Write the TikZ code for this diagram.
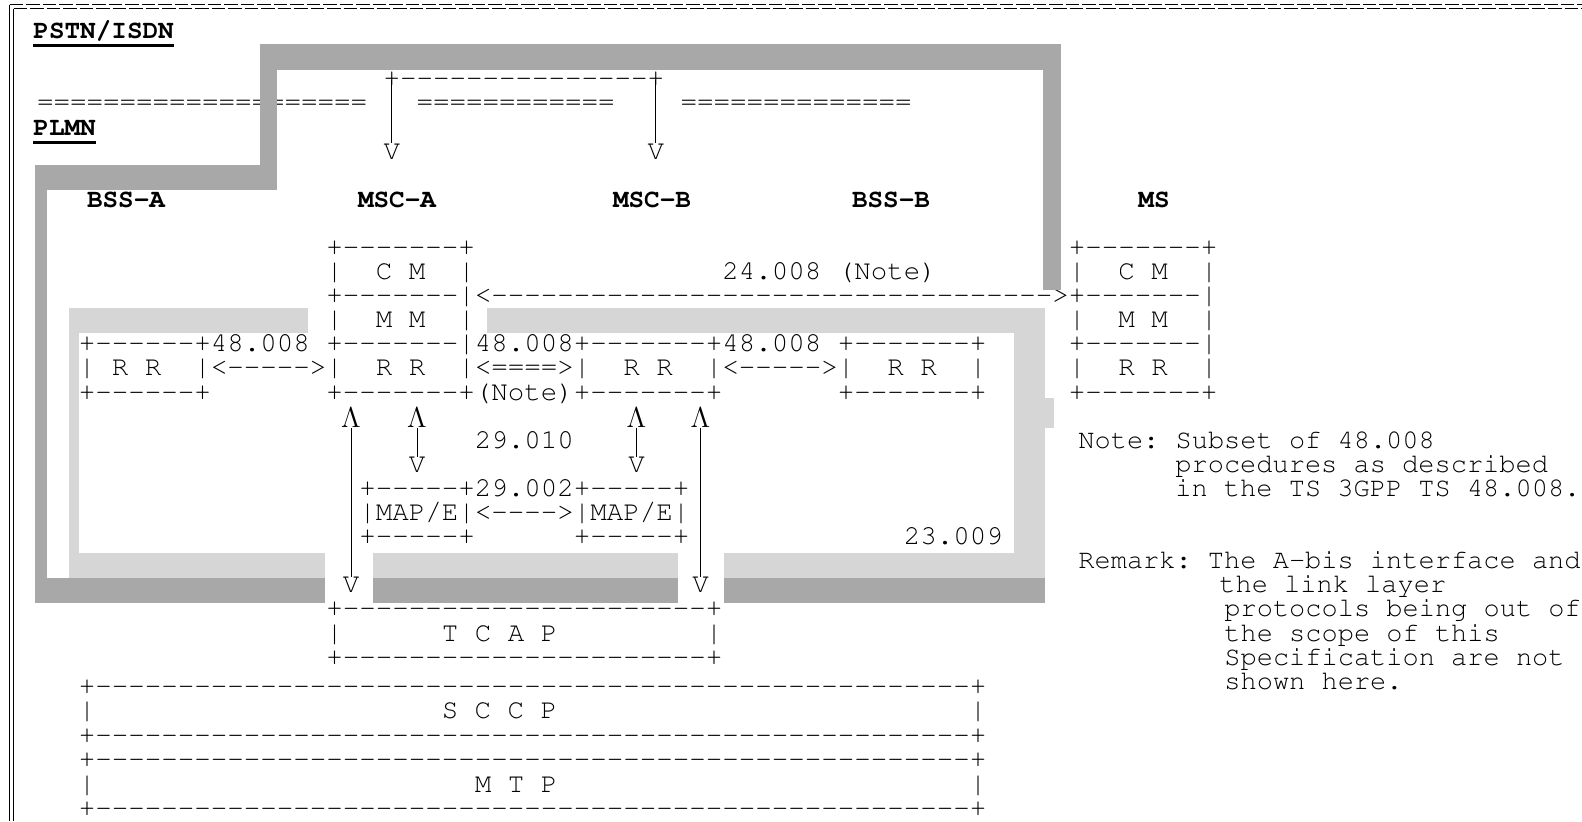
\documentclass[tikz,border=0pt]{standalone}
\usepackage[T1]{fontenc}
\ExplSyntaxOn
\NewDocumentCommand\rep{mm}{\prg_replicate:nn{#1}{#2}}
\ExplSyntaxOff
\newcommand\dashes[1]{\rep{#1}{-{}}}
\newcommand\equals[1]{\rep{#1}{=}}
\newcommand\blanks[1]{\rep{#1}{~}}
\newcommand\cour{\fontencoding{T1}\fontfamily{pcr}\fontsize{13.75}{14}\selectfont}
\newcommand\notefont{\fontencoding{T1}\fontfamily{pcr}\fontsize{13.5}{14}\selectfont}
\newcommand\cx[1]{78.75+16.5*#1}  % lower grid, left edge of column
\newcommand\cc[1]{87+16.5*#1}     % lower grid, middle of column
\newcommand\ux[1]{37+16.5*#1}     % upper grid
\newcommand\ry[1]{38.5+24.1*#1}   % baseline of text row
\tikzset{
  asc/.style={font=\cour, inner sep=0pt, outer sep=0pt, anchor=base west},
  head/.style={font=\cour\fontsize{13}{14}\bfseries, inner sep=0pt, anchor=base},
  note/.style={font=\notefont, inner sep=0pt, anchor=base west},
  tip/.style={font=\cour, inner sep=0pt, anchor=base},
  link/.style={line width=0.5pt},
  plmn/.style={fill=black!34},
  bss/.style={fill=black!16}
}
\begin{document}
\begin{tikzpicture}[x=0.5pt,y=-0.5pt]
\useasboundingbox (0,0) rectangle (1582,821);
% frame of the figure
\draw[line width=0.7pt] (9.5,4.5) -- (9.5,821);
\draw[line width=0.7pt] (13.5,8.5) -- (13.5,821);
\draw[line width=0.8pt, dash pattern=on 6.9pt off 1.35pt] (9.5,4.5) -- (1582,4.5);
\draw[line width=0.8pt, dash pattern=on 6.9pt off 1.35pt] (13.5,8.5) -- (1582,8.5);

% networks
\node[head, anchor=base west] (pstn) at (33,38) {PSTN/ISDN};
\node[head, anchor=base west] (plmn) at (33,135) {PLMN};
\draw[line width=1.5pt] ([yshift=-3.5pt]pstn.base west) -- ([yshift=-3.5pt]pstn.base east);
\draw[line width=1.5pt] ([yshift=-3.5pt]plmn.base west) -- ([yshift=-3.5pt]plmn.base east);
\node[asc] (tie) at (\ux{21},\ry{2}) {+\dashes{15}+};
\node[asc] (border) at (\ux{0},\ry{3}) {\equals{20}~~~\equals{12}~~~~\equals{14}};
\node[tip] (vA) at (\ux{21}+8.25,\ry{5}) {V};
\node[tip] (vB) at (\ux{37}+8.25,\ry{5}) {V};
\draw[link] ([xshift=4.125pt]tie.west) -- (vA.north);
\draw[link] ([xshift=-4.125pt]tie.east) -- (vB.north);

% entities
\node[head] (bssA) at (126,\ry{7}) {BSS-A};
\node[head] (mscA) at (397,\ry{7}) {MSC-A};
\node[head] (mscB) at (652,\ry{7}) {MSC-B};
\node[head] (bssB) at (891,\ry{7}) {BSS-B};
\node[head] (ms) at (1154,\ry{7}) {MS};

% CM, MM and RR layers
\node[asc] (r09) at (\cx{15},\ry{9}) {+\dashes{7}+\blanks{36}+\dashes{7}+};
\node[asc] (r10) at (\cx{15},\ry{10}) {|~~C~M~~|\blanks{15}24.008~(Note)\blanks{8}|~~C~M~~|};
\node[asc] (r11) at (\cx{15},\ry{11}) {+\dashes{7}|<\dashes{34}>+\dashes{7}|};
\node[asc] (r12) at (\cx{15},\ry{12}) {|~~M~M~~|\blanks{36}|~~M~M~~|};
\node[asc] (r13) at (\cx{0},\ry{13}) {+\dashes{6}+48.008~+\dashes{7}|48.008+\dashes{7}+48.008~+\dashes{7}+\blanks{5}+\dashes{7}|};
\node[asc] (r14) at (\cx{0},\ry{14}) {|~R~R~~|<\dashes{5}>|~~R~R~~|<====>|~~R~R~~|<\dashes{5}>|~~R~R~~|\blanks{5}|~~R~R~~|};
\node[asc] (r15) at (\cx{0},\ry{15}) {+\dashes{6}+\blanks{7}+\dashes{7}+(Note)+\dashes{7}+\blanks{7}+\dashes{7}+\blanks{5}+\dashes{7}+};

% MAP/E between the MSCs
\node[tip] (up16) at (\cc{16},\ry{16}+3) {$\Lambda$};
\node[tip] (up20) at (\cc{20},\ry{16}+3) {$\Lambda$};
\node[tip] (up33) at (\cc{33}+5,\ry{16}+3) {$\Lambda$};
\node[tip] (up37) at (\cc{37}+3,\ry{16}+3) {$\Lambda$};
\node[tip] (dn20) at (\cc{20},\ry{18}) {V};
\node[tip] (dn33) at (\cc{33}+5,\ry{18}) {V};
\node[tip] (dn16) at (\cc{16},\ry{23}) {V};
\node[tip] (dn37) at (\cc{37}+3,\ry{23}) {V};
\foreach \k in {16,20,33,37}
  \draw[link] (up\k.south) -- (dn\k.north);
\node[asc] (i29010) at (\cx{24},\ry{17}) {29.010};
\node[asc] (mapTop) at (\cx{17},\ry{19}) {+\dashes{5}+29.002+\dashes{5}+};
\node[asc] (mapE) at (\cx{17},\ry{20}) {|MAP/E|<\dashes{4}>|MAP/E|};
\node[asc] (mapBot) at (\cx{17},\ry{21}) {+\dashes{5}+\blanks{6}+\dashes{5}+};
\node[asc] (i23009) at (\cx{50},\ry{21}) {23.009};

% TCAP, SCCP, MTP
\node[asc] (tcapTop) at (\cx{15},\ry{24}) {+\dashes{22}+};
\node[asc] (tcap) at (\cx{15},\ry{25}) {|\blanks{6}T~C~A~P\blanks{9}|};
\node[asc] (tcapBot) at (\cx{15},\ry{26}) {+\dashes{22}+};
\node[asc] (sccpTop) at (\cx{0},694) {+\dashes{53}+};
\node[asc] (sccp) at (\cx{0},718.5) {|\blanks{21}S~C~C~P\blanks{25}|};
\node[asc] (sccpBot) at (\cx{0},743) {+\dashes{53}+};
\node[asc] (mtpTop) at (\cx{0},767.5) {+\dashes{53}+};
\node[asc] (mtp) at (\cx{0},792) {|\blanks{23}M~T~P\blanks{25}|};
\node[asc] (mtpBot) at (\cx{0},816) {+\dashes{53}+};

% notes
\node[note] (note1) at (1078,\ry{17}) {Note:~Subset~of~48.008};
\node[note] (note2) at (1175,\ry{18}) {procedures~as~described};
\node[note] (note3) at (1175,\ry{19}) {in~the~TS~3GPP~TS~48.008.};
\node[note] (rem1) at (1078,\ry{22}) {Remark:~The~A-bis~interface~and};
\node[note] (rem2) at (1219,\ry{23}) {the~link~layer};
\node[note] (rem3) at (1224,\ry{24}) {protocols~being~out~of};
\node[note] (rem4) at (1224,\ry{25}) {the~scope~of~this};
\node[note] (rem5) at (1224,\ry{26}) {Specification~are~not};
\node[note] (rem6) at (1224,\ry{27}) {shown~here.};

% PLMN boundary
\fill[plmn] (260,44) rectangle (1061,70);
\fill[plmn] (1043,44) rectangle (1061,290);
\fill[plmn] (260,44) rectangle (277,190);
\fill[plmn] (35,165) rectangle (277,190);
\fill[plmn] (35,165) rectangle (47,603);
\fill[plmn] (35,578) rectangle (325,603);
\fill[plmn] (373,578) rectangle (678,603);
\fill[plmn] (724,578) rectangle (1045,603);
% inner boundary
\fill[bss] (69,308) rectangle (79,578);
\fill[bss] (69,308) rectangle (308,333);
\fill[bss] (487,308) rectangle (1045,333);
\fill[bss] (1014,308) rectangle (1045,578);
\fill[bss] (1014,398) rectangle (1054,428);
\fill[bss] (69,553) rectangle (325,578);
\fill[bss] (373,553) rectangle (678,578);
\fill[bss] (724,553) rectangle (1045,578);
\end{tikzpicture}
\end{document}
